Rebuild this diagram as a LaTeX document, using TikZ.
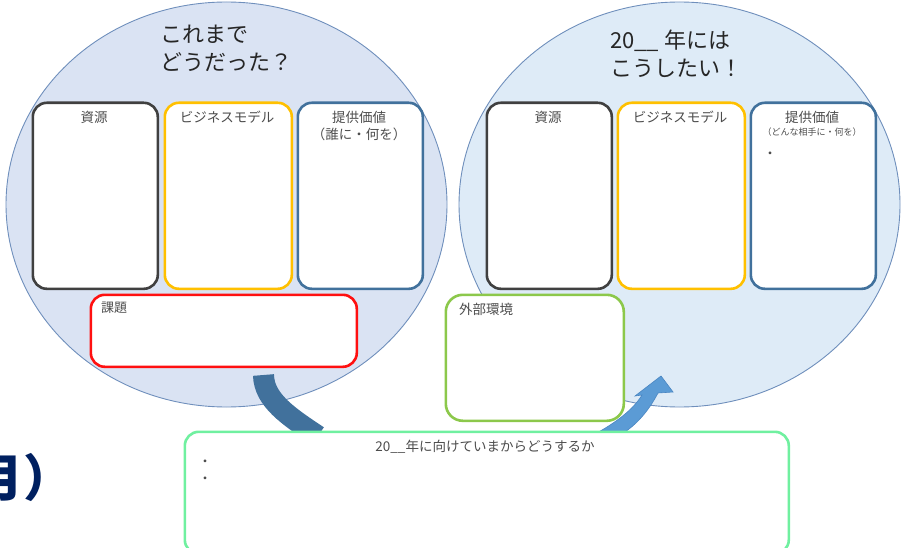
\documentclass[tikz,border=0pt]{standalone}
\usepackage{fontspec}
\setmainfont{Noto Sans CJK JP}
\definecolor{ellLfill}{HTML}{DAE3F3}
\definecolor{ellRfill}{HTML}{DEEBF7}
\definecolor{ellline}{HTML}{6F8FBC}
\definecolor{resline}{HTML}{404040}
\definecolor{bmline}{HTML}{FFC000}
\definecolor{valline}{HTML}{41719C}
\definecolor{kadline}{HTML}{FF1010}
\definecolor{gailine}{HTML}{8CC84B}
\definecolor{botline}{HTML}{70F0A0}
\definecolor{arrdark}{HTML}{41719C}
\definecolor{arrlight}{HTML}{5B9BD5}
\definecolor{arredge}{HTML}{4A86C2}
\definecolor{titlecol}{HTML}{262626}
\definecolor{lblcol}{HTML}{4D4D4D}
\definecolor{navy}{HTML}{002060}
\begin{document}
\begin{tikzpicture}[x=1pt,y=-1pt,
  bx/.style={draw, fill=white, rounded corners=14pt, line width=2.6pt, inner sep=0pt, anchor=north west},
  lbl/.style={text=lblcol, font=\fontsize{13.5}{16}\selectfont, inner sep=0pt},
  sublbl/.style={text=lblcol, inner sep=0pt},
  ttl/.style={text=titlecol, font=\fontsize{22}{28}\selectfont, align=left, inner sep=0pt, anchor=west},
  ell/.style={draw=ellline, line width=0.9pt}]
\useasboundingbox (0,0) rectangle (904,548);

% ellipses
\draw[ell, fill=ellLfill] (226.5,204.5) ellipse [x radius=220.5, y radius=202.5];
\draw[ell, fill=ellRfill] (679.5,204.5) ellipse [x radius=220.5, y radius=202.5];

% titles
\node[ttl] (tL) at (160,48.5) {これまで\\どうだった？};
\node[ttl] (tR) at (610,54) {20\_\_ 年には\\こうしたい！};

% left boxes
\node[bx, draw=resline, minimum width=125, minimum height=186] (resL) at (31.5,101.5) {};
\node[bx, draw=bmline, minimum width=127, minimum height=186] (bmL) at (163.5,101.5) {};
\node[bx, draw=valline, minimum width=125, minimum height=186] (valL) at (296.5,101.5) {};
\node[lbl] (resLt) at (94,117) {資源};
\node[lbl] (bmLt) at (227,117) {ビジネスモデル};
\node[lbl] (valLt) at (359,117) {提供価値};
\node[lbl] (valLs) at (359,134) {（誰に・何を）};
\node[bx, draw=kadline, minimum width=266, minimum height=72] (kadai) at (89.5,293.5) {};
\node[lbl, anchor=west, font=\fontsize{13}{15}\selectfont] (kadait) at (101,308) {課題};

% right boxes
\node[bx, draw=resline, minimum width=125, minimum height=186] (resR) at (485.5,101.5) {};
\node[bx, draw=bmline, minimum width=127, minimum height=186] (bmR) at (616.5,101.5) {};
\node[bx, draw=valline, minimum width=125, minimum height=186] (valR) at (749.5,101.5) {};
\node[lbl] (resRt) at (548,117) {資源};
\node[lbl] (bmRt) at (680,117) {ビジネスモデル};
\node[lbl] (valRt) at (812,117) {提供価値};
\node[sublbl, font=\fontsize{9}{11}\selectfont] (valRs) at (812,132) {（どんな相手に・何を）};
\node[lbl] (valRb) at (770,155) {・};
\node[bx, draw=gailine, rounded corners=17pt, minimum width=178, minimum height=126] (gaibu) at (444.5,293.5) {};
\node[lbl, anchor=west] (gaibut) at (459,309) {外部環境};

% arrow
\coordinate (aL1) at (263.5,375);
\coordinate (aL2) at (318,436);
\draw[line width=21pt, arrdark] (aL1) .. controls (264,400) and (288,416) .. (aL2);
\coordinate (aR1) at (595,434);
\coordinate (aR2) at (642,395);
\coordinate (hL) at (635,396);
\coordinate (tip) at (661,376);
\coordinate (hR) at (673,392);
\coordinate (aR3) at (658,393);
\coordinate (aR4) at (622,434);
\filldraw[fill=arrlight, draw=arredge, line width=0.6pt, line join=miter]
  (aR1) .. controls (615,423) and (633,410) .. (aR2) -- (hL) -- (tip) -- (hR) -- (aR3)
  .. controls (648,412) and (636,425) .. (aR4) -- cycle;

% bottom box
\node[bx, draw=botline, minimum width=604, minimum height=122] (bot) at (183.5,430.5) {};
\node[lbl] (bott) at (485,447) {20\_\_年に向けていまからどうするか};
\node[lbl] (bb1) at (205,463) {・};
\node[lbl] (bb2) at (205,480) {・};

% cut-off heading
\node[text=navy, font=\fontsize{50}{50}\selectfont\bfseries, inner sep=0pt, anchor=base west] (hd) at (-27,496) {月）};
\end{tikzpicture}
\end{document}
